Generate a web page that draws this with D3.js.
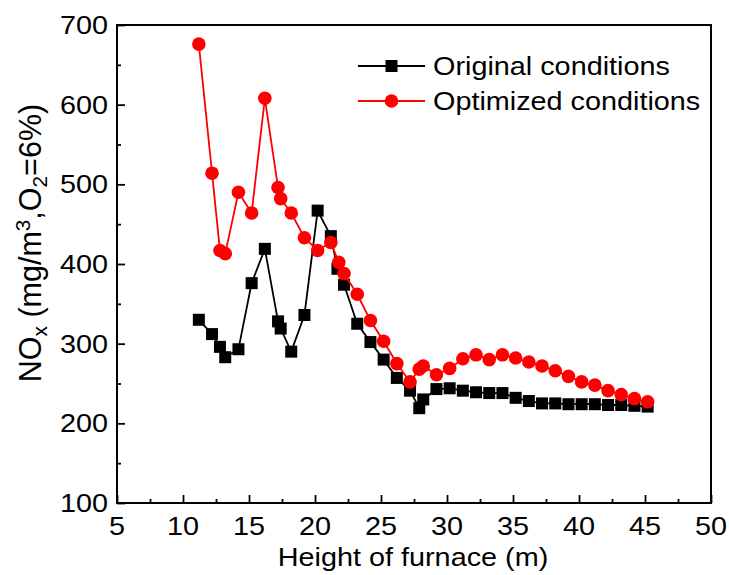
<!DOCTYPE html>
<html>
<head>
<meta charset="utf-8">
<script src="https://cdn.jsdelivr.net/npm/d3@7"></script>
<style>
  body { margin: 0; background: #fff; }
  text { font-family: "Liberation Sans", Arial, sans-serif; fill: #000; }
</style>
</head>
<body>
<svg id="chart"></svg>
<script>
// Data
const heights = [11.2, 12.2, 12.8, 13.2, 14.2, 15.2, 16.2, 17.2, 17.4, 18.2, 19.2, 20.2, 21.2, 21.7, 22.2, 23.2, 24.2, 25.2, 26.2, 27.2, 27.9, 28.2, 29.2, 30.2, 31.2, 32.2, 33.2, 34.2, 35.2, 36.2, 37.2, 38.2, 39.2, 40.2, 41.2, 42.2, 43.2, 44.2, 45.2];
const original = [330, 312, 296, 283, 293, 376, 419, 328, 319, 290, 336, 467, 435, 394, 374, 325, 302, 280, 257, 241, 219, 230, 243, 244, 241, 239, 238, 238, 232, 228, 225, 225, 224, 224, 224, 223, 223, 222, 221];
const optimizedX = [11.2, 12.2, 12.8, 13.2, 14.2, 15.2, 16.2, 17.2, 17.4, 18.2, 19.2, 20.2, 21.2, 21.8, 22.2, 23.2, 24.2, 25.2, 26.2, 27.2, 27.9, 28.2, 29.2, 30.2, 31.2, 32.2, 33.2, 34.2, 35.2, 36.2, 37.2, 38.2, 39.2, 40.2, 41.2, 42.2, 43.2, 44.2, 45.2];
const optimized = [676, 514, 417, 413, 490, 464, 608, 496, 482, 464, 433, 417, 427, 402, 388, 362, 329, 303, 275, 252, 268, 272, 261, 269, 281, 286, 280, 286, 282, 277, 272, 266, 259, 252, 248, 241, 236, 231, 227];
const seriesNames = ["Original conditions", "Optimized conditions"];
const xTicks = d3.range(5, 51, 5);
const yTicks = d3.range(100, 701, 100);

// Configurations
let width = 729
let height = 575
let marginLeft = 117
let marginRight = 18
let marginTop = 25
let marginBottom = 72
let fontSize = 25.5
let titleSize = 30.5 // the y title is drawn larger in the figure
let stretch = 1.13 // the picture's text is a little wider than the font

const svg = d3.select("#chart")
    .attr("width", width)
    .attr("height", height)
    .attr("viewBox", [0, 0, width, height]);

const x = d3.scaleLinear([5, 50], [marginLeft, width - marginRight]);
const y = d3.scaleLinear([100, 700], [height - marginBottom, marginTop]);

// Inward ticks, majors with labels and minors between them
const xAxis = d3.axisBottom(x).tickValues(xTicks).tickSize(-8).tickFormat("");
const xMinor = d3.axisBottom(x).tickValues(d3.range(7.5, 50, 5)).tickSize(-4).tickFormat("");
const yAxis = d3.axisLeft(y).tickValues(yTicks).tickSize(-8).tickFormat("");
const yMinor = d3.axisLeft(y).tickValues(d3.range(150, 700, 100)).tickSize(-4).tickFormat("");

[[xAxis, `translate(0,${y(100)})`], [xMinor, `translate(0,${y(100)})`],
 [yAxis, `translate(${x(5)},0)`], [yMinor, `translate(${x(5)},0)`]].forEach(([ax, tr]) => {
    svg.append("g")
        .attr("transform", tr)
        .call(ax)
        .call(g => g.select(".domain").remove())
        .call(g => g.selectAll(".tick line").attr("stroke", "#000").attr("stroke-width", 1.8));
});

// Frame
svg.append("rect")
    .attr("x", x(5))
    .attr("y", y(700))
    .attr("width", x(50) - x(5))
    .attr("height", y(100) - y(700))
    .attr("fill", "none")
    .attr("stroke", "#000")
    .attr("stroke-width", 2);

// Tick labels
svg.append("g")
    .selectAll("text")
    .data(xTicks)
    .join("text")
    .attr("transform", d => `translate(${x(d)},${y(100) + 32}) scale(${stretch},1)`)
    .attr("text-anchor", "middle")
    .attr("font-size", fontSize)
    .text(d => d);

svg.append("g")
    .selectAll("text")
    .data(yTicks)
    .join("text")
    .attr("transform", d => `translate(${x(5) - 9},${y(d) + 9}) scale(${stretch},1)`)
    .attr("text-anchor", "end")
    .attr("font-size", fontSize)
    .text(d => d);

// Axis titles
svg.append("text")
    .attr("transform", `translate(${(x(5) + x(50)) / 2 - 1},${height - 9}) scale(${stretch},1)`)
    .attr("text-anchor", "middle")
    .attr("font-size", fontSize)
    .text("Height of furnace (m)");

const yTitle = svg.append("text")
    .attr("transform", `translate(41,243) rotate(-90)`)
    .attr("text-anchor", "middle")
    .attr("font-size", titleSize);
yTitle.append("tspan").text("NO");
yTitle.append("tspan").attr("font-size", titleSize * 0.68).attr("dy", 6).text("x");
yTitle.append("tspan").attr("dy", -6).text(" (mg/m");
yTitle.append("tspan").attr("font-size", titleSize * 0.68).attr("dy", -11).text("3");
yTitle.append("tspan").attr("dy", 11).text(",O");
yTitle.append("tspan").attr("font-size", titleSize * 0.68).attr("dy", 6).text("2");
yTitle.append("tspan").attr("dy", -6).text("=6%)");

// Series
const series = [
    {name: seriesNames[0], xs: heights, ys: original, color: "#000", shape: "square"},
    {name: seriesNames[1], xs: optimizedX, ys: optimized, color: "#ff0000", shape: "circle"}
];

const line = d3.line().x(d => x(d[0])).y(d => y(d[1]));

function marker(g, s, cx, cy) {
    if (s.shape === "square") {
        g.append("rect")
            .attr("x", cx - 6).attr("y", cy - 6)
            .attr("width", 12).attr("height", 12)
            .attr("fill", s.color);
    } else {
        g.append("circle")
            .attr("cx", cx).attr("cy", cy).attr("r", 6.8)
            .attr("fill", s.color);
    }
}

series.forEach(s => {
    const pts = d3.zip(s.xs, s.ys);
    svg.append("path")
        .attr("d", line(pts))
        .attr("fill", "none")
        .attr("stroke", s.color)
        .attr("stroke-width", 1.8);
    const g = svg.append("g");
    pts.forEach(p => marker(g, s, x(p[0]), y(p[1])));
});

// Legend
series.forEach((s, i) => {
    const ly = 66 + i * 35;
    const g = svg.append("g");
    g.append("line")
        .attr("x1", 358).attr("x2", 425)
        .attr("y1", ly).attr("y2", ly)
        .attr("stroke", s.color)
        .attr("stroke-width", 1.8);
    marker(g, s, 391.5, ly);
    g.append("text")
        .attr("transform", `translate(433,${ly + 9}) scale(${stretch},1)`)
        .attr("font-size", fontSize)
        .text(s.name);
});
</script>
</body>
</html>
